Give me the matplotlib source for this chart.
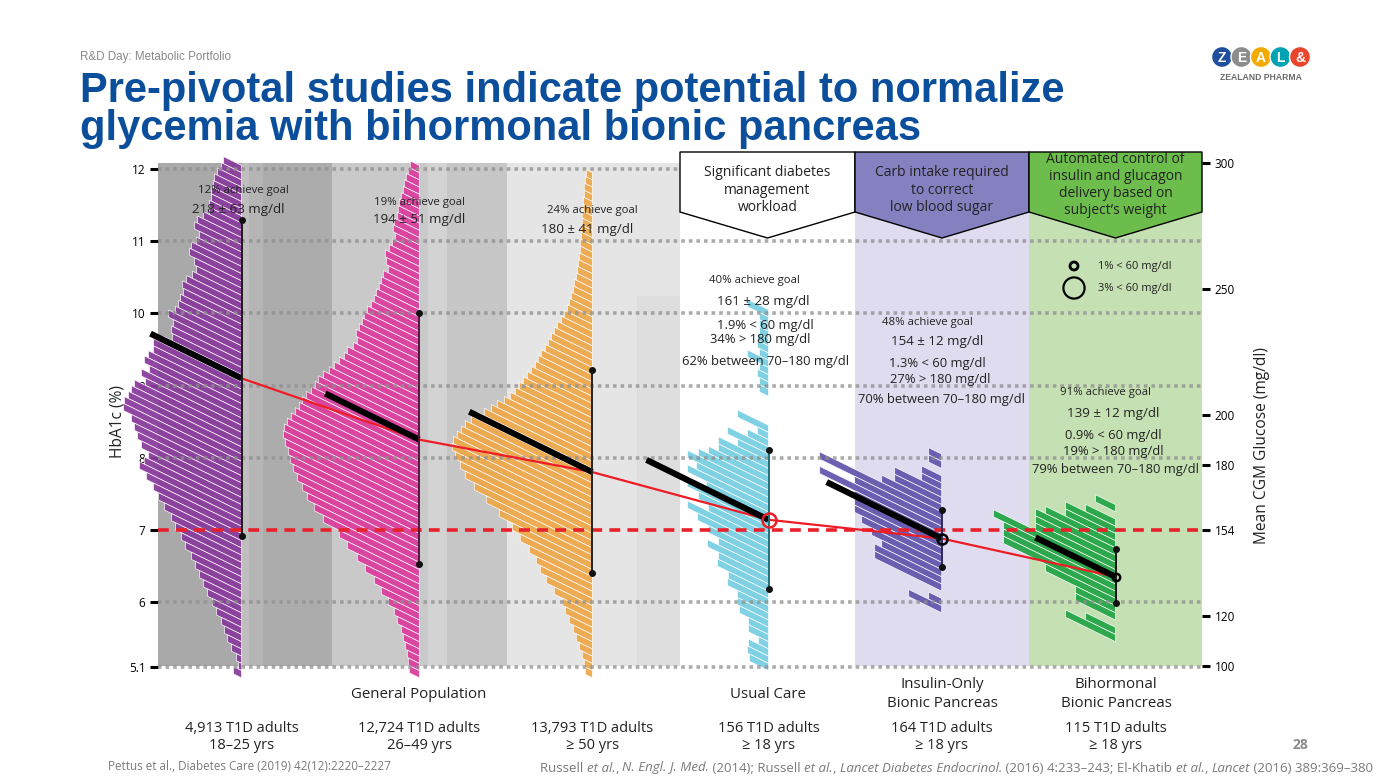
import numpy as np
import matplotlib.pyplot as plt
from matplotlib.collections import PolyCollection
from matplotlib.patches import Polygon, Rectangle, Circle
from matplotlib.transforms import Affine2D

W, H = 1387, 780
plt.rcParams['font.family'] = ['Open Sans', 'DejaVu Sans']

# ---------------- data ----------------
cohorts = ['4,913 T1D adults\n18–25 yrs', '12,724 T1D adults\n26–49 yrs',
           '13,793 T1D adults\n≥ 50 yrs', '156 T1D adults\n≥ 18 yrs',
           '164 T1D adults\n≥ 18 yrs', '115 T1D adults\n≥ 18 yrs']
goal_txt = ['12% achieve goal', '19% achieve goal', '24% achieve goal',
            '40% achieve goal', '48% achieve goal', '91% achieve goal']
cgm_txt = ['218 ± 63 mg/dl', '194 ± 51 mg/dl', '180 ± 41 mg/dl',
           '161 ± 28 mg/dl', '154 ± 12 mg/dl', '139 ± 12 mg/dl']
hypo_txt = ['1.9% < 60 mg/dl', '1.3% < 60 mg/dl', '0.9% < 60 mg/dl']
hyper_txt = ['34% > 180 mg/dl', '27% > 180 mg/dl', '19% > 180 mg/dl']
tir_txt = ['62% between 70–180 mg/dl', '70% between 70–180 mg/dl',
           '79% between 70–180 mg/dl']
hypo_pct = [1.9, 1.3, 0.9]
legend_pct = [1, 3]

hba1c_mean = [9.10, 8.25, 7.80, 7.14, 6.88, 6.35]
sd_low = [6.91, 6.53, 6.40, 6.18, 6.49, 5.99]
sd_high = [11.29, 10.01, 9.21, 8.10, 7.27, 6.73]

# histogram bar lengths, 0.1 % HbA1c bins, listed from the top bin down
hist_top = [12.0, 12.0, 11.9, 10.0, 8.0, 7.3]
hist_len = [
    [18, 20, 24, 27, 28, 30, 30, 32, 32, 38,
     44, 47, 42, 45, 50, 52, 47, 45, 49, 55,
     59, 58, 61, 63, 66, 73, 68, 70, 69, 78,
     88, 88, 93, 97, 92, 100, 96, 107, 110, 113,
     117, 118, 110, 107, 104, 100, 93, 97, 102, 95,
     88, 83, 77, 70, 66, 60, 56, 50, 46, 42,
     38, 34, 29, 25, 20, 17, 14, 10, 5, 3, 8],
    [9, 11, 13, 15, 16, 18, 20, 21, 22, 25,
     26, 24, 27, 30, 34, 33, 31, 36, 38, 40,
     43, 45, 48, 52, 55, 57, 60, 63, 62, 66,
     72, 75, 80, 85, 90, 96, 101, 104, 108, 113,
     117, 120, 124, 128, 132, 135, 136, 134, 131, 129,
     126, 122, 117, 112, 105, 96, 80, 72, 62, 54,
     45, 38, 31, 25, 22, 18, 16, 14, 12, 11, 10],
    [6, 7, 8, 8, 9, 9, 10, 10, 11,
     11, 12, 12, 13, 14, 15, 16, 18, 19, 21,
     23, 25, 28, 31, 35, 38, 41, 44, 47, 51,
     54, 57, 61, 65, 69, 73, 77, 82, 88, 95,
     101, 108, 115, 121, 127, 131, 135, 139, 140, 137,
     132, 127, 118, 106, 93, 80, 72, 63, 56, 52,
     46, 38, 30, 27, 23, 19, 16, 13, 10, 8, 7],
    [21, 9, 9, 9, 11, 11, 9, 21, 9, 11,
     9, 9, 0, 0, 0, 0, 31, 11, 21, 41,
     31, 50, 50, 60, 70, 81, 72, 81, 62, 81,
     70, 60, 81, 71, 60, 50, 61, 50, 51, 40,
     41, 31, 31, 29, 20, 20, 10, 20, 21, 19],
    [13, 13, 0, 20, 20, 47, 47, 60, 122, 87,
     122, 87, 87, 87, 80, 70, 60, 67, 67, 0, 13, 33],
    [20, 0, 30, 50, 50, 70, 80, 80, 80, 122,
     112, 112, 112, 70, 40, 40, 0, 30, 50],
]

a1c_ticks = [5.1, 6, 7, 8, 9, 10, 11, 12]
a1c_labels = ['5.1', '6', '7', '8', '9', '10', '11', '12']
mg_ticks = [100, 120, 154, 180, 200, 250, 300]

# ---------------- layout / style ----------------
x_right = [241.5, 419.3, 592.3, 768.5, 941.7, 1115.5]
mean_len = [91, 94, 123, 122, 115, 80]
SHEAR = 0.0068          # HbA1c rise per pixel to the left
bar_colors = ['#8a3d9d', '#dc3f9d', '#eea84c', '#78cfe2', '#6457ae', '#25a547']
err_colors = ['#1a1a1a', '#5a1040', '#222222', '#1d6f7f', '#2b2a55', '#111111']
gray_bands = [(158, 242, '#a9a9a9'), (242, 249, '#bebebe'), (249, 263, '#b5b5b5'),
              (263, 332, '#acacac'), (332, 428, '#c9c9c9'), (428, 447, '#d3d3d3'),
              (447, 507, '#c6c6c6'), (507, 680, '#e5e5e5')]
txt = '#222222'


def a2g(a):
    return 28.7 * np.asarray(a) - 46.7


def g2a(g):
    return (np.asarray(g) + 46.7) / 28.7


fig = plt.figure(figsize=(W / 100, H / 100), dpi=100)
px = Affine2D().scale(1 / W, -1 / H).translate(0, 1) + fig.transFigure

ax = fig.add_axes([158 / W, 1 - 674.19 / H, 1044 / W, (674.19 - 154.57) / H])
ax.set_xlim(158, 1202)
ax.set_ylim(5.0, 12.2)
ax.patch.set_alpha(0)
for s in ax.spines.values():
    s.set_visible(False)
ax.set_xticks([])
ax.set_yticks(a1c_ticks, labels=a1c_labels)
ax.tick_params(axis='y', direction='out', length=6, width=2.2, labelsize=8.5,
               pad=3, colors='black')

sec = ax.secondary_yaxis('right', functions=(a2g, g2a))
sec.set_yticks(mg_ticks)
sec.spines['right'].set_visible(False)
sec.tick_params(direction='out', length=6, width=2.2, labelsize=8.5, pad=3)

# backgrounds
for x0, x1, c in gray_bands:
    ax.add_patch(Rectangle((x0, 5.12), x1 - x0, 12.08 - 5.12, fc=c, ec='none', zorder=0))
ax.add_patch(Rectangle((637, 5.12), 43, 10.24 - 5.12, fc='#dedede', ec='none', zorder=0.1))
ax.add_patch(Rectangle((855, 5.12), 174, 12.08 - 5.12, fc='#dfdcef', ec='none', zorder=0))
ax.add_patch(Rectangle((1029, 5.12), 173, 12.08 - 5.12, fc='#c5e1b3', ec='none', zorder=0))

# grid
for t in a1c_ticks:
    if t == 7:
        continue
    ax.axhline(t, color='#8f8f8f', lw=2.6, ls=(0, (1, 1.1)), alpha=0.75, zorder=3)
ax.axhline(7, color='#e8202a', lw=2.6, ls=(0, (3, 2)), zorder=3)

# sheared histograms
for i in range(6):
    L = np.asarray(hist_len[i], float)
    centers = hist_top[i] - 0.1 * np.arange(len(L))
    xr = x_right[i]
    polys = []
    for c, l in zip(centers, L):
        if l <= 0:
            continue
        lo, hi = c - 0.05, c + 0.05
        polys.append([(xr, lo), (xr, hi), (xr - l, hi + SHEAR * l), (xr - l, lo + SHEAR * l)])
    ax.add_collection(PolyCollection(polys, facecolors=bar_colors[i], edgecolors=(1, 1, 1, 0.4),
                                     linewidths=0.5, alpha=0.95, zorder=2, clip_on=False))

# mean trend
ax.plot(x_right, hba1c_mean, color='#ee1c25', lw=1.6, zorder=4, clip_on=False)

# black mean slabs and SD bars
for i in range(6):
    xr, m, l = x_right[i], hba1c_mean[i], mean_len[i]
    ax.plot([xr - l, xr], [m + SHEAR * l, m], color='black', lw=4.4,
            solid_capstyle='butt', zorder=5, clip_on=False)
    ax.plot([xr, xr], [sd_low[i], sd_high[i]], color=err_colors[i], lw=1.4, zorder=6,
            marker='o', ms=4, mfc='#111', mec='#111')

# hypoglycaemia circles
for j, p in enumerate(hypo_pct):
    i = j + 3
    d = 2 * (3.3 * p + 0.7) * 0.72
    ax.plot(x_right[i], hba1c_mean[i], 'o', ms=d, mfc='none',
            mec='#ee1c25' if j == 0 else 'black', mew=1.8, zorder=7)
for k, p in enumerate(legend_pct):
    r = 3.3 * p + 0.7
    cy = [266, 288][k]
    fig.add_artist(Circle((1074, cy), r, transform=px, fill=False, ec='black', lw=1.6 if k else 2))
    fig.text(1098, cy, f'{p}% < 60 mg/dl', transform=px, ha='left', va='center',
             fontsize=8, color=txt)

# header chevrons
heads = [(680, 855, 'white', 'Significant diabetes\nmanagement\nworkload', 190),
         (855, 1029, '#8581c1', 'Carb intake required\nto correct\nlow blood sugar', 190),
         (1029, 1202, '#6cbd4b', 'Automated control of\ninsulin and glucagon\ndelivery based on\nsubject’s weight', 185)]
for x0, x1, c, s, ty in heads:
    xc = (x0 + x1) / 2
    fig.add_artist(Polygon([(x0, 152), (x1, 152), (x1, 212), (xc, 238), (x0, 212)],
                           closed=True, transform=px, fc=c, ec='black', lw=1, zorder=8))
    fig.text(xc, ty, s, transform=px, ha='center', va='center', fontsize=10,
             color=txt, linespacing=1.2, zorder=9)

# group annotations
goal_xy = [(243, 190), (419, 202), (592, 211), (754, 281), (927, 322), (1105, 393)]
cgm_xy = [(238, 210), (419, 220), (587, 229), (763, 302), (937, 342), (1113, 413)]
for i in range(6):
    fig.text(*goal_xy[i], goal_txt[i], transform=px, ha='center', va='center',
             fontsize=8.2, color=txt)
    fig.text(*cgm_xy[i], cgm_txt[i], transform=px, ha='center', va='center',
             fontsize=9.6, color=txt)
stat_y = [(325, 340, 361), (364, 380, 400), (435, 451, 470)]
stat_x = [(765, 760, 766), (937, 940, 942), (1113, 1113, 1115)]
for j in range(3):
    for s, x, y in zip([hypo_txt[j], hyper_txt[j], tir_txt[j]], stat_x[j], stat_y[j]):
        fig.text(x, y, s, transform=px, ha='center', va='center', fontsize=9.4, color=txt)

# axis titles
fig.text(117, 422, 'HbA1c (%)', transform=px, rotation=90, ha='center', va='center',
         fontsize=11.2, color=txt)
fig.text(1262, 446, 'Mean CGM Glucose (mg/dl)', transform=px, rotation=90,
         ha='center', va='center', fontsize=11.2, color=txt)

# bottom labels
for x, s in [(419, 'General Population'), (768, 'Usual Care'),
             (942, 'Insulin-Only\nBionic Pancreas'), (1116, 'Bihormonal\nBionic Pancreas')]:
    fig.text(x, 694, s, transform=px, ha='center', va='center', fontsize=10.8,
             color=txt, linespacing=1.35)
for i in range(6):
    fig.text(x_right[i], 737, cohorts[i], transform=px, ha='center', va='center',
             fontsize=10.5, color=txt, linespacing=1.15)

# slide furniture
fig.text(80, 57, 'R&D Day: Metabolic Portfolio', transform=px, ha='left', va='center',
         fontsize=8.4, color='#8a8a8a', family='Liberation Sans')
for y, s in [(102, 'Pre-pivotal studies indicate potential to normalize'),
             (140, 'glycemia with bihormonal bionic pancreas')]:
    fig.text(80, y, s, transform=px, ha='left', va='baseline', fontsize=30,
             fontweight='bold', color='#0b4e9b', family='Liberation Sans')
logo = [('Z', '#1f4f9d'), ('E', '#8c8c8c'), ('A', '#f2ab00'), ('L', '#00a3b4'), ('&', '#e8452c')]
for k, (ch, c) in enumerate(logo):
    cx = 1222 + 19.5 * k
    fig.add_artist(Circle((cx, 57), 10.5, transform=px, fc=c, ec='white', lw=1))
    fig.text(cx, 57.5, ch, transform=px, ha='center', va='center', fontsize=10,
             fontweight='bold', color='white', family='Liberation Sans')
fig.text(1261, 78, 'ZEALAND PHARMA', transform=px, ha='center', va='center', fontsize=6.2,
         fontweight='bold', color='#6b6b6b', family='Liberation Sans')
fig.text(1300, 745, '28', transform=px, ha='center', va='center', fontsize=10,
         fontweight='bold', color='#8a8a8a')

# footnotes, italic pieces set one after another
foot = dict(transform=px, ha='left', va='center', color='#7a7a7a')
fig.text(108, 767, 'Pettus et al., Diabetes Care (2019) 42(12):2220–2227', fontsize=8.4, **foot)
refs = [('Russell ', 'normal'), ('et al.', 'italic'), (', ', 'normal'),
        ('N. Engl. J. Med.', 'italic'), (' (2014); Russell ', 'normal'), ('et al.', 'italic'),
        (', ', 'normal'), ('Lancet Diabetes Endocrinol.', 'italic'),
        (' (2016) 4:233–243; El-Khatib ', 'normal'), ('et al.', 'italic'), (', ', 'normal'),
        ('Lancet', 'italic'), (' (2016) 389:369–380', 'normal')]
renderer = fig.canvas.get_renderer()
xpos = 540
for s, st in refs:
    t = fig.text(xpos, 768, s, style=st, fontsize=9.5, **foot)
    xpos += t.get_window_extent(renderer).width

fig.savefig('out.png', dpi=100)
